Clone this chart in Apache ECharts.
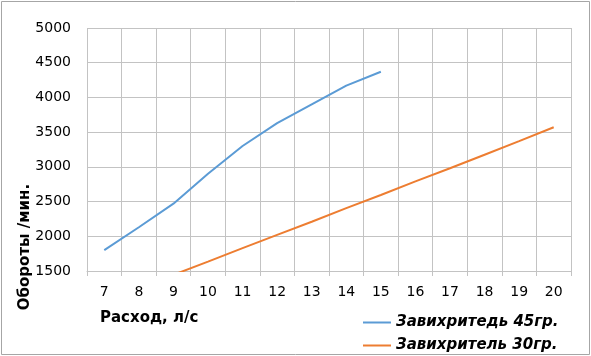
<!DOCTYPE html>
<html><head><meta charset="utf-8">
<script src="https://cdn.jsdelivr.net/npm/echarts@6/dist/echarts.min.js"></script>
<style>html,body{margin:0;padding:0;background:#fff}#c{width:591px;height:356px}</style>
</head><body><div id="c"></div>
<script>
const categories = ['7','8','9','10','11','12','13','14','15','16','17','18','19','20'];
const yTicks = [1500, 2000, 2500, 3000, 3500, 4000, 4500, 5000];
const seriesNames = ['Завихритедь 45гр.', 'Завихритель 30гр.'];
const swirl45 = [1800, 2130, 2470, 2900, 3300, 3630, 3900, 4170, 4370, null, null, null, null, null];
const swirl30 = [null, null, 1445, 1635, 1830, 2020, 2210, 2405, 2595, 2790, 2980, 3175, 3370, 3570];

const font = 'DejaVu Sans';
const gridColor = '#c3c3c3';
const colors = ['#5b9bd5', '#ed7d31'];
const legendText = {fontFamily: font, fontSize: 15, fontWeight: 'bold', fontStyle: 'italic', color: '#000'};
const chart = echarts.init(document.getElementById('c'));
chart.setOption({
  animation: false,
  grid: {left: 87, right: 20, top: 28, bottom: 85},
  xAxis: {
    type: 'category', data: categories, boundaryGap: true,
    axisLine: {show: true, lineStyle: {color: gridColor, width: 1}},
    axisTick: {show: true, length: 5, lineStyle: {color: gridColor}},
    splitLine: {show: true, lineStyle: {color: gridColor, width: 1}},
    axisLabel: {color: '#000', fontFamily: font, fontSize: 14, margin: 14}
  },
  yAxis: {
    type: 'value', min: yTicks[0], max: yTicks[yTicks.length - 1], interval: 500,
    axisLine: {show: false}, axisTick: {show: false},
    splitLine: {show: true, lineStyle: {color: gridColor, width: 1}},
    axisLabel: {color: '#000', fontFamily: font, fontSize: 14, margin: 16, formatter: v => String(v)}
  },
  legend: [
    {left: 358, top: 310, icon: 'rect', itemWidth: 28, itemHeight: 2, textStyle: legendText, data: [seriesNames[0]]},
    {left: 358, top: 333, icon: 'rect', itemWidth: 28, itemHeight: 2, textStyle: legendText, data: [seriesNames[1]]}
  ],
  graphic: [
    {type: 'rect', shape: {x: 1.5, y: 1.5, width: 588, height: 353}, style: {fill: 'none', stroke: '#a6a6a6', lineWidth: 1}, silent: true},
    {type: 'text', left: 100, top: 311, style: {text: 'Расход, л/с', font: 'bold 15px "DejaVu Sans"', fill: '#000'}},
    {type: 'text', x: 25, y: 247, rotation: Math.PI / 2, style: {text: 'Обороты /мин.', font: 'bold 15px "DejaVu Sans"', fill: '#000', align: 'center', verticalAlign: 'middle'}}
  ],
  series: [
    {name: seriesNames[0], type: 'line', data: swirl45, symbol: 'none', lineStyle: {color: colors[0], width: 2}, itemStyle: {color: colors[0]}},
    {name: seriesNames[1], type: 'line', data: swirl30, symbol: 'none', lineStyle: {color: colors[1], width: 2}, itemStyle: {color: colors[1]}}
  ]
});
</script></body></html>
